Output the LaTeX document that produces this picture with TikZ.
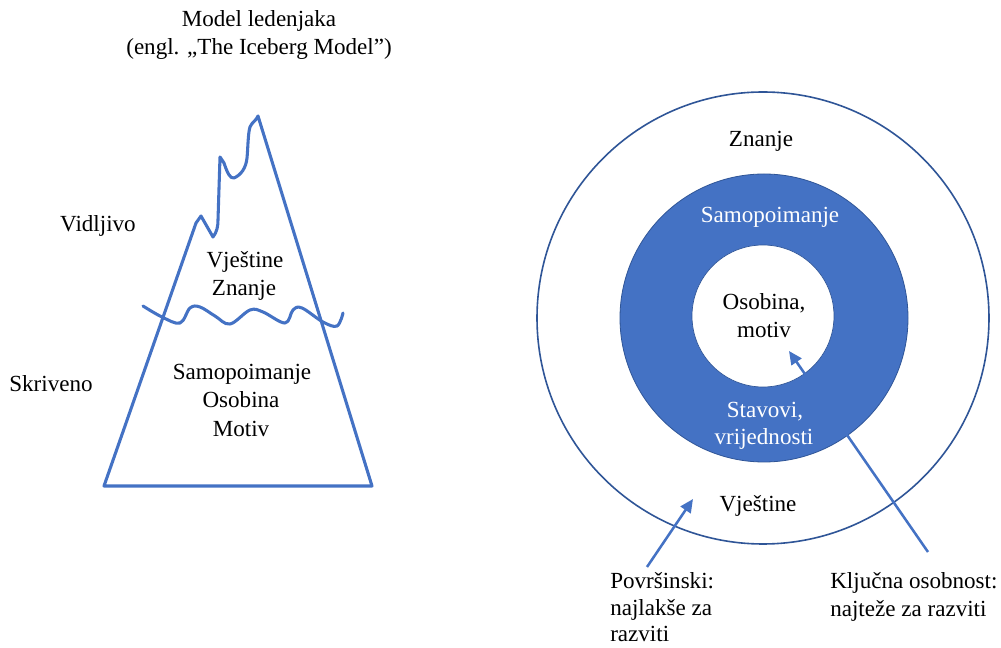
\documentclass[tikz,border=0pt]{standalone}
\usepackage{fontspec}
\setmainfont{Liberation Serif}
\usetikzlibrary{arrows.meta}
\definecolor{ibBlue}{HTML}{4472C4}
\definecolor{ibDark}{HTML}{2F5597}
\tikzset{
  txt/.style={anchor=base, inner sep=0pt, font=\fontsize{17.3}{21}\selectfont},
  txtw/.style={txt, text=white},
  txtl/.style={txt, anchor=base west},
  berg/.style={draw=ibBlue, line width=2.3pt, line join=round, line cap=round},
  arr/.style={draw=ibBlue, line width=1.9pt, -{Triangle[length=10pt,width=9pt]}},
}
\begin{document}
\begin{tikzpicture}[x=0.75pt,y=-0.75pt]
\useasboundingbox (0,0) rectangle (1001,648);
% ---------- left: iceberg ----------
\node[txt] (t1) at (259,27) {Model ledenjaka};
\node[txt] (t2) at (259,55) {(engl. „The Iceberg Model”)};
\draw[berg] (104,486) -- (196,223) -- (201,216) -- (213,237)
  .. controls (217,232) and (218,226) .. (218,220) -- (220,157) -- (224,163)
  .. controls (227,172) and (230,179) .. (234,178)
  .. controls (241,175) and (246,168) .. (247,158)
  .. controls (248,148) and (248,133) .. (250,127)
  .. controls (252,122) and (256,121) .. (258,116)
  -- (372,486) -- cycle;
\draw[berg] plot[smooth, tension=0.6] coordinates {
  (143,306) (162,317) (180,323) (190,308) (200,307) (215,316) (230,324)
  (250,310) (263,312) (285,323) (293,310) (302,308) (323,322) (337,326) (343,313)};
\node[txt] (vid) at (98,232) {Vidljivo};
\node[txt] (skr) at (51,392) {Skriveno};
\node[txt] (l1) at (245,268) {Vještine};
\node[txt] (l2) at (244,296) {Znanje};
\node[txt] (l3) at (242,380) {Samopoimanje};
\node[txt] (l4) at (241,408) {Osobina};
\node[txt] (l5) at (241,437) {Motiv};
% ---------- right: circles ----------
\draw[draw=ibDark, line width=1.2pt, fill=white] (763,318) circle (226);
\draw[draw=ibDark, line width=0.6pt, fill=ibBlue] (764,318) circle (144);
\draw[draw=ibDark, line width=0.5pt, fill=white] (763,316) circle (71);
\node[txt] (zn) at (761,147) {Znanje};
\node[txtw] (sam) at (770,223) {Samopoimanje};
\node[txt] (os1) at (764,310) {Osobina,};
\node[txt] (os2) at (764,338) {motiv};
\node[txtw] (st1) at (765,418) {Stavovi,};
\node[txtw] (st2) at (764,445) {vrijednosti};
\node[txt] (vj) at (758,512) {Vještine};
\coordinate (a1s) at (647,567);
\coordinate (a1e) at (693,499);
\coordinate (a2s) at (928,552);
\coordinate (a2e) at (789,351);
\draw[arr] (a1s) -- (a1e);
\draw[arr] (a2s) -- (a2e);
\node[txtl] (p1) at (610,589) {Površinski:};
\node[txtl] (p2) at (610,616) {najlakše za};
\node[txtl] (p3) at (610,642) {razviti};
\node[txtl] (k1) at (830,589) {Ključna osobnost:};
\node[txtl] (k2) at (830,617) {najteže za razviti};
\end{tikzpicture}
\end{document}
